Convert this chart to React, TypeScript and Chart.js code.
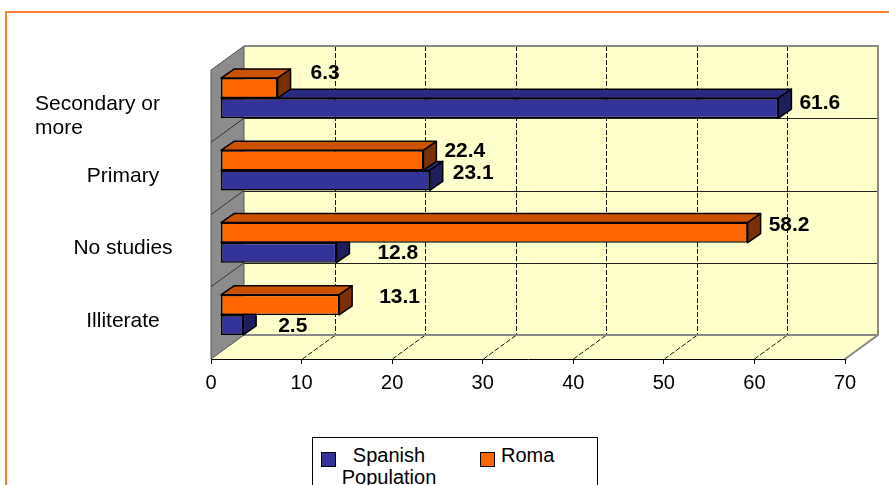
import React, { useEffect, useRef } from 'react';
import { Chart, registerables } from 'chart.js';

Chart.register(...registerables);

// ---- data ----
const categories: (string | string[])[] = [['Secondary or', 'more'], 'Primary', 'No studies', 'Illiterate'];
const seriesNames = ['Roma', 'Spanish Population'];
const romaValues = [6.3, 22.4, 58.2, 13.1];
const spanishValues = [61.6, 23.1, 12.8, 2.5];
const xMin = 0;
const xMax = 70;
const xStep = 10;

// ---- styles ----
const FONT = '"Liberation Sans", Arial, sans-serif';
const frontColors = ['#ff6600', '#333399'];
const topColors = ['#cc5200', '#2a2a80'];
const sideColors = ['#7a3000', '#1e1e5c'];
const WALL_DX = 33, WALL_DY = -24;
const BAR_SHIFT_X = 9.5, BAR_SHIFT_Y = -8;
const BAR_DX = 13, BAR_DY = -9;
const LABEL_DX = 21, LABEL_DY = -7;
// per-label nudges [dataset][index] -> [dx, dy]
const labelNudges = [
  [[12, -8], [0, -2], [0, 0], [19, -1]],
  [[0, 2], [2, 0], [20, 8], [14, 8]],
];

function poly(ctx: CanvasRenderingContext2D, pts: number[][]) {
  ctx.beginPath();
  ctx.moveTo(pts[0][0], pts[0][1]);
  for (let i = 1; i < pts.length; i++) ctx.lineTo(pts[i][0], pts[i][1]);
  ctx.closePath();
}

const threeD = {
  id: 'threeD',
  beforeDraw(chart: any) {
    const { ctx, chartArea: a, scales } = chart;
    const xs = scales.x, ys = scales.y;
    const L = a.left, R = a.right, T = a.top, B = a.bottom;
    const dx = WALL_DX, dy = WALL_DY;
    ctx.save();
    ctx.fillStyle = '#ffffcc';
    ctx.fillRect(L + dx, T + dy, R - L, B - T);
    poly(ctx, [[L, B], [R, B], [R + dx, B + dy], [L + dx, B + dy]]);
    ctx.fill();
    // dashed value gridlines on back wall and floor
    ctx.strokeStyle = '#111';
    ctx.lineWidth = 1;
    ctx.setLineDash([5, 2]);
    xs.ticks.forEach((t: any) => {
      if (t.value <= xs.min || t.value >= xs.max) return;
      const px = Math.round(xs.getPixelForValue(t.value)) + 0.5;
      ctx.beginPath();
      ctx.moveTo(px + dx, T + dy);
      ctx.lineTo(px + dx, B + dy);
      ctx.moveTo(px, B);
      ctx.lineTo(px + dx, B + dy);
      ctx.stroke();
    });
    ctx.setLineDash([]);
    // category boundaries on back wall
    const n = ys.ticks.length;
    ctx.strokeStyle = '#222';
    for (let i = 1; i < n; i++) {
      const yb = Math.round((ys.getPixelForTick(i - 1) + ys.getPixelForTick(i)) / 2) + 0.5;
      ctx.beginPath();
      ctx.moveTo(L + dx, yb + dy);
      ctx.lineTo(R + dx, yb + dy);
      ctx.stroke();
    }
    // side wall
    poly(ctx, [[L, T], [L + dx, T + dy], [L + dx, B + dy], [L, B]]);
    ctx.fillStyle = '#8c8c8c';
    ctx.fill();
    ctx.strokeStyle = '#555';
    ctx.lineWidth = 1;
    ctx.stroke();
    ctx.strokeStyle = '#333';
    for (let i = 1; i < n; i++) {
      const yb = (ys.getPixelForTick(i - 1) + ys.getPixelForTick(i)) / 2;
      ctx.beginPath();
      ctx.moveTo(L, yb);
      ctx.lineTo(L + dx, yb + dy);
      ctx.stroke();
    }
    // wall borders
    ctx.strokeStyle = '#888';
    ctx.lineWidth = 2;
    ctx.beginPath();
    ctx.moveTo(L + dx, T + dy);
    ctx.lineTo(R + dx, T + dy);
    ctx.lineTo(R + dx, B + dy);
    ctx.lineTo(R, B);
    ctx.moveTo(L + dx, B + dy);
    ctx.lineTo(R + dx, B + dy);
    ctx.stroke();
    ctx.restore();
  },
  beforeDatasetsDraw(chart: any) {
    chart.ctx.save();
    chart.ctx.translate(BAR_SHIFT_X, BAR_SHIFT_Y);
  },
  afterDatasetDraw(chart: any, args: any) {
    const ctx = chart.ctx;
    const di = args.index;
    ctx.save();
    ctx.lineWidth = 1.5;
    ctx.strokeStyle = '#000';
    ctx.lineJoin = 'round';
    args.meta.data.forEach((bar: any) => {
      const p = bar.getProps(['x', 'y', 'base', 'height'], true);
      const top = p.y - p.height / 2;
      const bot = p.y + p.height / 2;
      const x0 = p.base, x1 = p.x;
      poly(ctx, [[x0, top], [x1, top], [x1 + BAR_DX, top + BAR_DY], [x0 + BAR_DX, top + BAR_DY]]);
      ctx.fillStyle = topColors[di];
      ctx.fill();
      ctx.stroke();
      poly(ctx, [[x1, top], [x1 + BAR_DX, top + BAR_DY], [x1 + BAR_DX, bot + BAR_DY], [x1, bot]]);
      ctx.fillStyle = sideColors[di];
      ctx.fill();
      ctx.stroke();
    });
    ctx.restore();
  },
  afterDatasetsDraw(chart: any) {
    const ctx = chart.ctx;
    ctx.restore();
    ctx.save();
    ctx.font = `bold 21px ${FONT}`;
    ctx.fillStyle = '#000';
    ctx.textAlign = 'left';
    ctx.textBaseline = 'middle';
    chart.data.datasets.forEach((ds: any, di: number) => {
      const meta = chart.getDatasetMeta(di);
      meta.data.forEach((bar: any, i: number) => {
        const p = bar.getProps(['x', 'y'], true);
        const nd = labelNudges[di][i];
        ctx.fillText(String(ds.data[i]), p.x + BAR_SHIFT_X + LABEL_DX + nd[0], p.y + BAR_SHIFT_Y + LABEL_DY + nd[1]);
      });
    });
    ctx.restore();
  },
  afterDraw(chart: any) {
    const ctx = chart.ctx;
    const ys = chart.scales.y;
    ctx.save();
    ctx.font = `21px ${FONT}`;
    ctx.fillStyle = '#000';
    ctx.textBaseline = 'middle';
    (chart.data.labels as any[]).forEach((lab, i) => {
      const yc = ys.getPixelForTick(i);
      if (Array.isArray(lab)) {
        ctx.textAlign = 'left';
        lab.forEach((line: string, k: number) => ctx.fillText(line, 35, yc - 2 + k * 24));
      } else {
        ctx.textAlign = 'center';
        ctx.fillText(lab, 123, yc - 2);
      }
    });
    ctx.restore();
  },
};

export default function App() {
  const ref = useRef<HTMLCanvasElement>(null);
  useEffect(() => {
    if (!ref.current) return;
    const chart = new Chart(ref.current, {
      type: 'bar',
      data: {
        labels: categories as any,
        datasets: [
          { label: seriesNames[0], data: romaValues, backgroundColor: frontColors[0] },
          { label: seriesNames[1], data: spanishValues, backgroundColor: frontColors[1] },
        ],
      },
      options: {
        indexAxis: 'y',
        responsive: false,
        animation: false,
        layout: { padding: { top: 70, right: 44, bottom: 0, left: 0 } },
        datasets: {
          bar: {
            categoryPercentage: 0.554,
            barPercentage: 1,
            borderColor: '#000',
            borderWidth: 1.5,
            borderSkipped: false,
            clip: false as any,
          },
        },
        plugins: { legend: { display: false }, tooltip: { enabled: false } },
        scales: {
          x: {
            min: xMin,
            max: xMax,
            ticks: { stepSize: xStep, color: '#000', font: { family: FONT, size: 20 }, padding: 7 },
            grid: { drawOnChartArea: false, drawTicks: true, tickLength: 5, color: '#000' },
            border: { display: true, color: '#000', width: 1 },
            afterFit: (s: any) => { s.height = 126; },
          },
          y: {
            ticks: { display: false },
            grid: { display: false },
            border: { display: false },
            afterFit: (s: any) => { s.width = 211; },
          },
        },
      },
      plugins: [threeD],
    });
    return () => chart.destroy();
  }, []);

  const legendItems = [1, 0].map((di) => ({ name: seriesNames[di], color: frontColors[di] }));

  return (
    <div style={{ position: 'absolute', left: 0, top: 0, width: 889, height: 485, overflow: 'hidden', background: '#fff' }}>
      <div style={{ position: 'absolute', left: 5, top: 11, width: 950, height: 550, borderLeft: '2px solid #ff7d2e', borderTop: '2px solid #ff7d2e' }} />
      <canvas ref={ref} width={889} height={485} style={{ position: 'absolute', left: 0, top: 0, display: 'block' }} />
      <div style={{ position: 'absolute', left: 312, top: 437, width: 286, height: 70, border: '1px solid #000', boxSizing: 'border-box', background: '#fff', fontFamily: FONT, fontSize: 20, lineHeight: '22px', color: '#000' }}>
        <div style={{ position: 'absolute', left: 8, top: 14, width: 15, height: 15, boxSizing: 'border-box', border: '1.5px solid #000', background: legendItems[0].color }} />
        <div style={{ position: 'absolute', left: 21, top: 6, width: 110, textAlign: 'center' }}>{legendItems[0].name}</div>
        <div style={{ position: 'absolute', left: 167, top: 14, width: 15, height: 15, boxSizing: 'border-box', border: '1.5px solid #000', background: legendItems[1].color }} />
        <div style={{ position: 'absolute', left: 188, top: 6, whiteSpace: 'nowrap' }}>{legendItems[1].name}</div>
      </div>
    </div>
  );
}
